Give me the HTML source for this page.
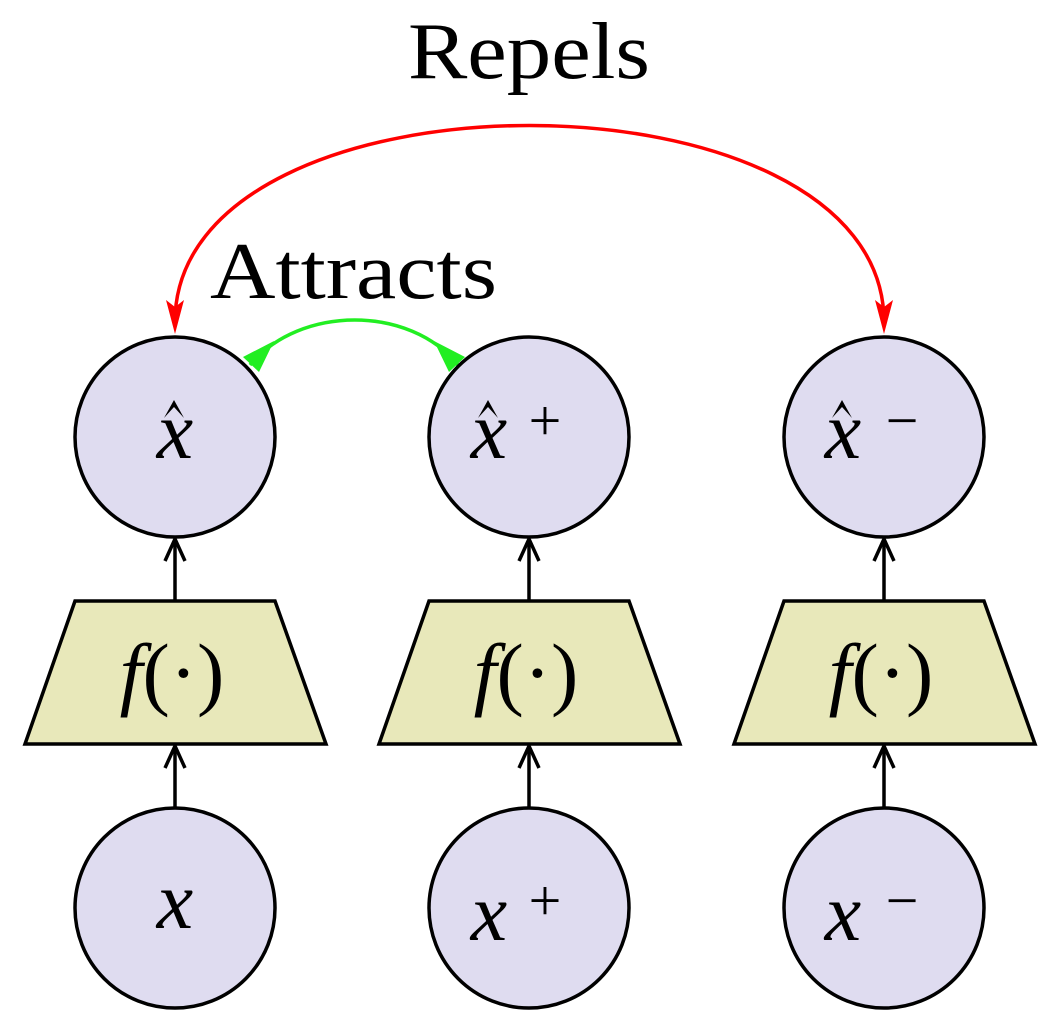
<!DOCTYPE html>
<html><head><meta charset="utf-8"><style>html,body{margin:0;padding:0;background:#fff}svg{display:block}</style></head>
<body>
<svg width="1052" height="1033" viewBox="0 0 1052 1033" xmlns="http://www.w3.org/2000/svg">
<g font-family="Liberation Serif, serif">
<text x="408" y="78" font-size="80" textLength="242" lengthAdjust="spacingAndGlyphs">Repels</text>
<text x="210" y="298" font-size="80" textLength="287" lengthAdjust="spacingAndGlyphs">Attracts</text>
</g>
<path d="M175,322 C175,60 884,60 884,322" fill="none" stroke="#ff0000" stroke-width="3.5"/>
<path d="M166,300 L175,334 L184,300 L175,307 Z" fill="#ff0000"/>
<path d="M875,300 L884,334 L893,300 L884,307 Z" fill="#ff0000"/>
<path d="M250,365 C300,305 410,305 458,365" fill="none" stroke="#22ee22" stroke-width="3.5"/>
<path d="M243,357 L274,341 L259,372 Z" fill="#22ee22"/>
<path d="M465,357 L434,341 L449,372 Z" fill="#22ee22"/>
<g stroke="#000" stroke-width="3.5">
<g fill="#dfdcf0">
<circle cx="175" cy="437" r="100"/><circle cx="529" cy="437" r="100"/><circle cx="884" cy="437" r="100"/>
<circle cx="175" cy="908" r="100"/><circle cx="529" cy="908" r="100"/><circle cx="884" cy="908" r="100"/>
</g>
<g fill="#e8e8ba">
<polygon points="75,601 275,601 326,744 25,744"/>
<polygon points="429,601 629,601 680,744 379,744"/>
<polygon points="784,601 984,601 1035,744 734,744"/>
</g>
<g fill="none">
<line x1="175" y1="808" x2="175" y2="750"/><line x1="529" y1="808" x2="529" y2="750"/><line x1="884" y1="808" x2="884" y2="750"/>
<line x1="175" y1="601" x2="175" y2="543"/><line x1="529" y1="601" x2="529" y2="543"/><line x1="884" y1="601" x2="884" y2="543"/>
</g>
</g>
<g fill="none" stroke="#000" stroke-width="3.5" stroke-linejoin="round">
<path d="M165,768 L175,746 L185,768"/><path d="M519,768 L529,746 L539,768"/><path d="M874,768 L884,746 L894,768"/>
<path d="M165,561 L175,539 L185,561"/><path d="M519,561 L529,539 L539,561"/><path d="M874,561 L884,539 L894,561"/>
</g>
<g fill="#000">
<path d="M164,418 L174,400 L184,418 L174,407 Z"/>
<path d="M478,418 L488,400 L498,418 L488,407 Z"/>
<path d="M832,418 L842,400 L852,418 L842,407 Z"/>
</g>
<g font-family="Liberation Serif, serif" font-style="italic" font-size="82" text-anchor="middle" fill="#000">
<text x="175" y="458">x</text>
<text x="489" y="458">x</text><text x="545" y="440" font-style="normal" font-size="58">+</text>
<text x="843" y="458">x</text><text x="902" y="440" font-style="normal" font-size="58">−</text>
<text x="172" y="700">f<tspan font-style="normal">(·)</tspan></text>
<text x="526" y="700">f<tspan font-style="normal">(·)</tspan></text>
<text x="881" y="700">f<tspan font-style="normal">(·)</tspan></text>
<text x="175" y="928">x</text>
<text x="489" y="940">x</text><text x="545" y="920" font-style="normal" font-size="58">+</text>
<text x="843" y="940">x</text><text x="902" y="920" font-style="normal" font-size="58">−</text>
</g>
</svg>
</body></html>
